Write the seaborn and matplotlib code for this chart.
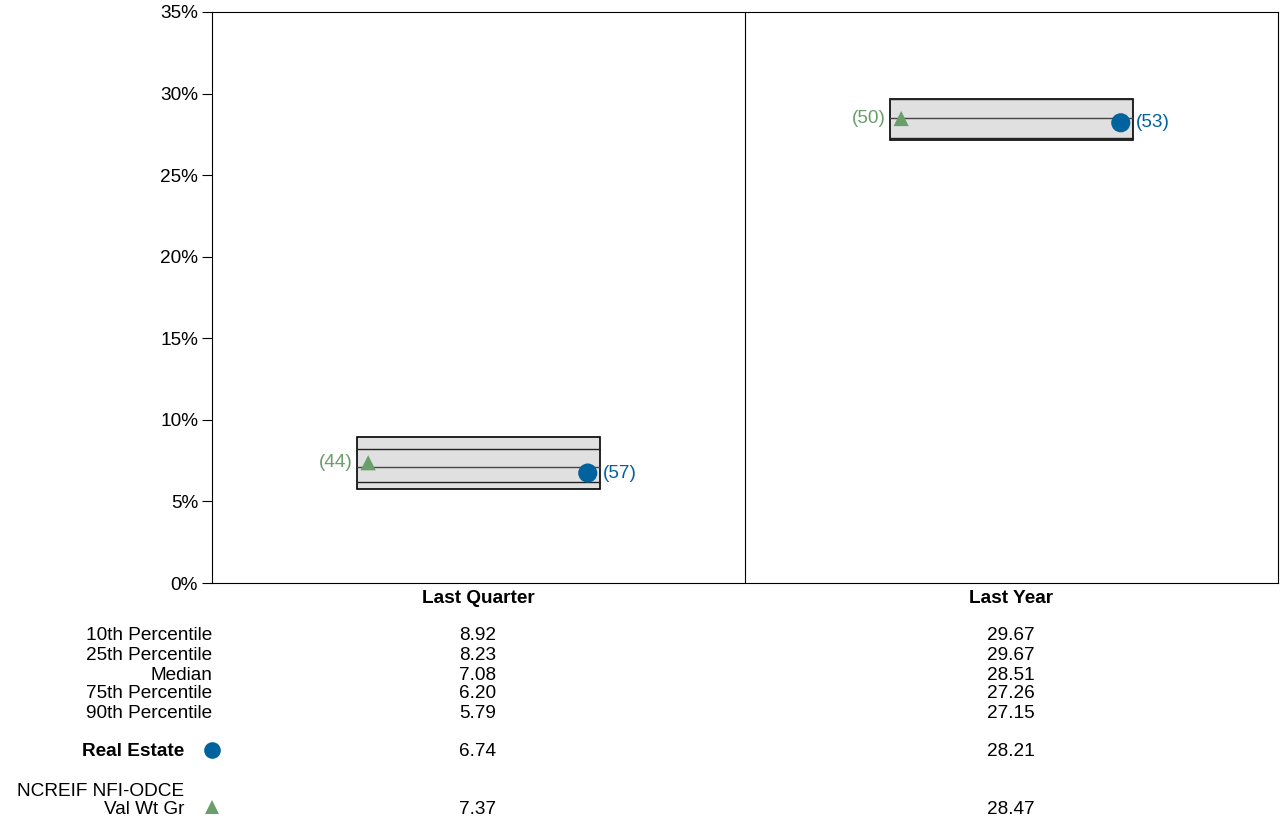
import numpy as np
import pandas as pd
import matplotlib
matplotlib.use("Agg")
import matplotlib.pyplot as plt
import seaborn as sns
from matplotlib.patches import Rectangle

# data
periods = ["Last Quarter", "Last Year"]
p10 = [8.92, 29.67]
p25 = [8.23, 29.67]
median = [7.08, 28.51]
p75 = [6.20, 27.26]
p90 = [5.79, 27.15]
real_estate = [6.74, 28.21]
re_rank = [57, 53]
ncreif = [7.37, 28.47]
nc_rank = [44, 50]
row_labels = ["10th Percentile", "25th Percentile", "Median", "75th Percentile", "90th Percentile"]

blue = "#00639e"
green = "#6a9e6a"
FS = 13.7

sns.set_style("white")
plt.rcParams["font.family"] = ["Liberation Sans", "DejaVu Sans"]
plt.rcParams["text.color"] = "black"
plt.rcParams["xtick.color"] = "black"
plt.rcParams["ytick.color"] = "black"

fig = plt.figure(figsize=(12.83, 8.24), dpi=100)
ax = fig.add_axes([212 / 1283, 1 - 583 / 824, 1066 / 1283, 571 / 824])

half = 0.228
for i in range(len(periods)):
    ax.add_patch(Rectangle((i - half, p90[i]), 2 * half, p10[i] - p90[i],
                           facecolor="#e0e0e0", edgecolor="black", lw=1.2, zorder=1))
    for v, c in [(p25[i], "#222222"), (median[i], "#444444"), (p75[i], "#222222")]:
        ax.plot([i - half, i + half], [v, v], color=c, lw=1.0, zorder=2)

nc_df = pd.DataFrame({"x": [-0.207, 0.793], "y": ncreif})
re_df = pd.DataFrame({"x": [0.205, 1.205], "y": real_estate})
sns.scatterplot(data=nc_df, x="x", y="y", color=green, marker="^", s=120,
                edgecolor="none", legend=False, ax=ax, zorder=3)
sns.scatterplot(data=re_df, x="x", y="y", color=blue, marker="o", s=190,
                edgecolor="none", legend=False, ax=ax, zorder=3)
for i in range(len(periods)):
    ax.annotate(f"({nc_rank[i]})", (i - 0.207, ncreif[i]), xytext=(-11, 0),
                textcoords="offset points", ha="right", va="center", color=green, fontsize=FS)
    ax.annotate(f"({re_rank[i]})", (i + 0.205, real_estate[i]), xytext=(11, 0),
                textcoords="offset points", ha="left", va="center", color=blue, fontsize=FS)

ax.set_xlim(-0.5, 1.5)
ax.set_ylim(0, 35)
ax.axvline(0.5, color="black", lw=0.8)
ax.set_yticks(np.arange(0, 36, 5))
ax.set_yticklabels([f"{v}%" for v in range(0, 36, 5)], fontsize=FS)
ax.tick_params(axis="y", direction="out", length=7, width=0.8, left=True, pad=3)
ax.set_xticks([0, 1])
ax.set_xticklabels(periods, fontsize=FS, fontweight="bold")
ax.tick_params(axis="x", length=0, pad=5)
ax.set_xlabel("")
ax.set_ylabel("")
for s in ax.spines.values():
    s.set_linewidth(0.8)
    s.set_color("black")

# table below
def fy(py):
    return 1 - (py + 2) / 824

cx = [478 / 1283, 1011 / 1283]
rows_y = [634, 654, 673, 692, 711]
vals = [p10, p25, median, p75, p90]
for lab, py, v in zip(row_labels, rows_y, vals):
    fig.text(212 / 1283, fy(py), lab, ha="right", va="center", fontsize=FS)
    for i in range(2):
        fig.text(cx[i], fy(py), f"{v[i]:.2f}", ha="center", va="center", fontsize=FS)

fig.text(184 / 1283, fy(750), "Real Estate", ha="right", va="center", fontsize=FS, fontweight="bold")
fig.lines.append(plt.Line2D([212 / 1283], [1 - 750 / 824], marker="o", color=blue, ms=12,
                            markeredgewidth=0, transform=fig.transFigure, figure=fig))
fig.text(184 / 1283, fy(789), "NCREIF NFI-ODCE", ha="right", va="center", fontsize=FS)
fig.text(184 / 1283, fy(807), "Val Wt Gr", ha="right", va="center", fontsize=FS)
fig.lines.append(plt.Line2D([212 / 1283], [1 - 807 / 824], marker="^", color=green, ms=10,
                            markeredgewidth=0, transform=fig.transFigure, figure=fig))
for i in range(2):
    fig.text(cx[i], fy(750), f"{real_estate[i]:.2f}", ha="center", va="center", fontsize=FS)
    fig.text(cx[i], fy(807), f"{ncreif[i]:.2f}", ha="center", va="center", fontsize=FS)

fig.savefig("out.png", dpi=100)
